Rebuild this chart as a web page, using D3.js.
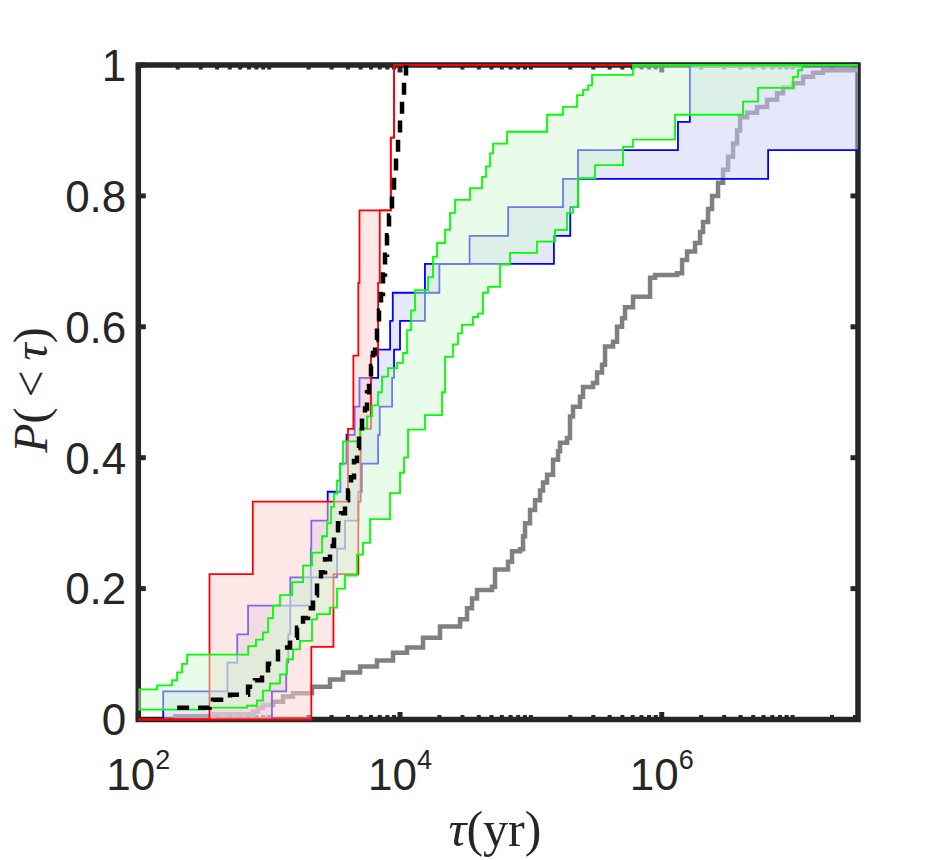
<!DOCTYPE html>
<html><head><meta charset="utf-8">
<script src="https://cdn.jsdelivr.net/npm/d3@7"></script>
<style>body{margin:0;background:#fff}</style>
</head><body><svg id="c" width="946" height="860"></svg>
<script>
// ---------- data (tau in yr, P = cumulative fraction) ----------
const xDomain = [1e2, 3.16e7];
const yDomain = [0, 1];
const xMajorTicks = [1e2, 1e4, 1e6];
const xMajorExp = ["2", "4", "6"];
const yTicks = [0, 0.2, 0.4, 0.6, 0.8, 1];
const yTickLabels = ["0", "0.2", "0.4", "0.6", "0.8", "1"];

const greyTau = [184, 372, 753, 821, 897, 1070, 1276, 1521, 2125, 2917, 3667, 4946, 6669, 8842, 11310, 14990, 20210, 28740, 32510, 35500, 38780, 50480, 53210, 66870, 71770, 82600, 87100, 90230, 98520, 107600, 117500, 123800, 132900, 147700, 161200, 167000, 188900, 199100, 209900, 237400, 250300, 298500, 320300, 349700, 368700, 424400, 455400, 497400, 524300, 603500, 814000, 888800, 1309000, 1430000, 1561000, 1797000, 1962000, 2068000, 2258000, 2423000, 2693000, 2942000, 3211000, 3507000, 3763000, 3967000, 4486000, 5350000, 6378000, 7606000, 8454000, 10080000, 12020000, 14330000, 17080000];
const greyP = [0.005, 0.008, 0.012, 0.018, 0.022, 0.027, 0.035, 0.04, 0.05, 0.061, 0.072, 0.081, 0.09, 0.102, 0.11, 0.125, 0.142, 0.153, 0.17, 0.185, 0.198, 0.203, 0.229, 0.241, 0.257, 0.26, 0.28, 0.30, 0.32, 0.335, 0.35, 0.362, 0.374, 0.397, 0.41, 0.423, 0.43, 0.463, 0.478, 0.493, 0.508, 0.514, 0.53, 0.542, 0.57, 0.577, 0.60, 0.613, 0.63, 0.646, 0.675, 0.679, 0.682, 0.702, 0.715, 0.728, 0.745, 0.76, 0.78, 0.80, 0.82, 0.84, 0.86, 0.88, 0.90, 0.92, 0.927, 0.936, 0.947, 0.957, 0.966, 0.972, 0.982, 0.988, 0.992];

const redUpperTau = [350, 750, 4000, 4400, 4800, 4900, 8500, 9000];
const redUpperP   = [0.222, 0.333, 0.444, 0.556, 0.667, 0.778, 0.889, 1.0];
const redLowerTau = [2100, 3100, 4800, 5000, 6000, 6800, 7000, 8500, 9000];
const redLowerP   = [0.111, 0.222, 0.333, 0.444, 0.556, 0.667, 0.778, 0.889, 1.0];

const blueUpperTau = [155, 480, 570, 690, 1450, 2080, 2100, 2800, 3500, 3900, 4500, 4900, 6800, 8400, 8800, 15500, 34000, 67000, 176000, 229000, 1330000, 1640000];
const blueUpperP   = [0.043, 0.087, 0.130, 0.174, 0.217, 0.261, 0.304, 0.348, 0.391, 0.435, 0.478, 0.522, 0.565, 0.609, 0.652, 0.696, 0.739, 0.783, 0.826, 0.870, 0.913, 1.0];
const blueLowerTau = [1050, 1350, 1400, 1450, 2100, 3300, 3800, 4800, 5100, 6800, 7000, 8700, 9000, 10000, 15500, 20000, 150000, 200000, 229000, 6500000];
const blueLowerP   = [0.043, 0.087, 0.130, 0.174, 0.217, 0.261, 0.304, 0.348, 0.391, 0.435, 0.478, 0.522, 0.565, 0.609, 0.652, 0.696, 0.739, 0.783, 0.826, 0.870];

const greenUpperStart = 0.046;
const greenUpperTau = [139, 181, 198, 216, 236, 690, 793, 897, 980, 1070, 1210, 1500, 1815, 2125, 2534, 2767, 2970, 3130, 3300, 3478, 3667, 4946, 5595, 6109, 6787, 7283, 8094, 9487, 10540, 11310, 12140, 13020, 16370, 17870, 19170, 22080, 24110, 26320, 34250, 42330, 45410, 48730, 51370, 65730, 132900, 176000, 225300, 250300, 273400, 293300, 603500];
const greenUpperP   = [0.052, 0.06, 0.072, 0.085, 0.099, 0.112, 0.122, 0.133, 0.155, 0.174, 0.19, 0.21, 0.235, 0.255, 0.28, 0.30, 0.325, 0.345, 0.365, 0.39, 0.425, 0.445, 0.463, 0.48, 0.50, 0.524, 0.537, 0.545, 0.56, 0.595, 0.625, 0.656, 0.676, 0.707, 0.728, 0.748, 0.774, 0.794, 0.812, 0.829, 0.845, 0.865, 0.88, 0.898, 0.924, 0.936, 0.954, 0.962, 0.969, 0.985, 1.0];
const greenLowerStart = 0.015;
const greenLowerTau = [323, 677, 807, 897, 1015, 1210, 1369, 1521, 1721, 2125, 2321, 2917, 3300, 3798, 4692, 5213, 5898, 8386, 10000, 10730, 11510, 15520, 20940, 22080, 25410, 27750, 29770, 36130, 39460, 43090, 47050, 58110, 69270, 111400, 152900, 188900, 209900, 229000, 309300, 506100, 603500, 1263000, 4182000, 5444000, 10080000, 11010000, 11810000];
const greenLowerP   = [0.018, 0.021, 0.029, 0.044, 0.055, 0.069, 0.092, 0.107, 0.12, 0.153, 0.161, 0.171, 0.20, 0.22, 0.252, 0.27, 0.306, 0.346, 0.377, 0.40, 0.443, 0.465, 0.50, 0.554, 0.573, 0.59, 0.603, 0.615, 0.62, 0.652, 0.661, 0.695, 0.713, 0.73, 0.748, 0.774, 0.783, 0.827, 0.847, 0.875, 0.886, 0.924, 0.944, 0.965, 0.982, 0.992, 1.0];

const medianTau = [198, 350, 372, 502, 690, 779, 882, 980, 1168, 1443, 1632, 1815, 1981, 2163, 2321, 2490, 2673, 2917, 3130, 3359, 3541, 3798, 4008, 4222, 4451, 4692, 4859, 5123, 5401, 5595, 5797, 6002, 6217, 6440, 6669, 6908, 7157, 7413, 7679, 7952, 8238, 8686, 9000, 9320, 9655, 10000, 10360, 10730, 11110];
const medianP   = [0.018, 0.022, 0.03, 0.038, 0.05, 0.06, 0.07, 0.085, 0.11, 0.125, 0.14, 0.155, 0.17, 0.19, 0.21, 0.225, 0.245, 0.265, 0.28, 0.30, 0.315, 0.335, 0.35, 0.37, 0.395, 0.415, 0.44, 0.46, 0.475, 0.50, 0.52, 0.54, 0.56, 0.58, 0.60, 0.625, 0.65, 0.68, 0.71, 0.74, 0.77, 0.80, 0.83, 0.86, 0.89, 0.92, 0.95, 0.98, 1.0];

// ---------- scales ----------
const L = 138.3, R = 858, T = 65, B = 719.5;
const x = d3.scaleLog().domain(xDomain).range([L, R]);
const y = d3.scaleLinear().domain(yDomain).range([B, T]);
const svg = d3.select("#c");
svg.append("rect").attr("width", 946).attr("height", 860).attr("fill", "#fff");

const AX = "#262626";
svg.append("rect").attr("x", L).attr("y", T).attr("width", R - L).attr("height", B - T)
  .attr("fill", "none").attr("stroke", AX).attr("stroke-width", 5.5);

// ticks
const tk = svg.append("g").attr("stroke", AX);
const majLen = 7.5, minLen = 4.5;
xMajorTicks.forEach(v => {
  const px = x(v);
  tk.append("line").attr("x1", px).attr("x2", px).attr("y1", B).attr("y2", B - majLen).attr("stroke-width", 5);
  tk.append("line").attr("x1", px).attr("x2", px).attr("y1", T).attr("y2", T + majLen).attr("stroke-width", 5);
});
x.ticks().filter(v => !xMajorTicks.some(m => Math.abs(m - v) / v < 1e-6)).forEach(v => {
  const px = x(v);
  if (px < L + 2 || px > R - 2) return;
  tk.append("line").attr("x1", px).attr("x2", px).attr("y1", B).attr("y2", B - minLen).attr("stroke-width", 4);
  tk.append("line").attr("x1", px).attr("x2", px).attr("y1", T).attr("y2", T + minLen).attr("stroke-width", 4);
});
yTicks.forEach(v => {
  const py = y(v);
  tk.append("line").attr("x1", L).attr("x2", L + majLen).attr("y1", py).attr("y2", py).attr("stroke-width", 5);
  tk.append("line").attr("x1", R).attr("x2", R - majLen).attr("y1", py).attr("y2", py).attr("stroke-width", 5);
});

// tick labels
const lab = svg.append("g").attr("fill", AX).attr("font-family", "'Liberation Sans', Arial, Helvetica, sans-serif");
yTicks.forEach((v, i) => {
  lab.append("text").attr("x", L - 12).attr("y", y(v)).attr("dy", "0.36em")
    .attr("text-anchor", "end").attr("font-size", 44).text(yTickLabels[i]);
});
xMajorTicks.forEach((v, i) => {
  const t = lab.append("text").attr("x", x(v)).attr("y", 790).attr("text-anchor", "middle").attr("font-size", 44);
  t.append("tspan").text("10");
  t.append("tspan").attr("font-size", 27).attr("dy", -21).text(xMajorExp[i]);
});

// axis titles
const serif = "'Liberation Serif', 'Times New Roman', serif";
const xt = svg.append("text").attr("x", 495).attr("y", 846).attr("text-anchor", "middle")
  .attr("font-family", serif).attr("font-size", 50).attr("fill", AX);
xt.append("tspan").attr("font-style", "italic").text("τ");
xt.append("tspan").text("(yr)");
const yt = svg.append("text").attr("transform", "translate(47,390) rotate(-90)").attr("text-anchor", "middle")
  .attr("font-family", serif).attr("font-size", 48).attr("fill", AX);
yt.append("tspan").attr("font-style", "italic").text("P");
yt.append("tspan").text("(");
yt.append("tspan").attr("dx", 10).text("<");
yt.append("tspan").attr("dx", 10).attr("font-style", "italic").text("τ");
yt.append("tspan").text(")");

// ---------- staircase helpers ----------
function stair(taus, ps, start, extend, lead) {
  const pts = [];
  let prev = start;
  if (start != null && lead) pts.push([xDomain[0], start]);
  taus.forEach((t, i) => {
    if (prev != null) pts.push([t, prev]);
    pts.push([t, ps[i]]);
    prev = ps[i];
  });
  if (extend) pts.push([xDomain[1], prev]);
  return pts;
}
const line = d3.line().x(d => x(d[0])).y(d => y(d[1]));
function band(up, lo, lineUp, lineLo, fill, stroke) {
  const poly = up.concat(lo.slice().reverse());
  svg.append("path").attr("d", line(poly) + "Z").attr("fill", fill).attr("fill-opacity", 0.5).attr("stroke", "none");
  [lineUp, lineLo].forEach(p => svg.append("path").attr("d", line(p)).attr("fill", "none")
    .attr("stroke", stroke).attr("stroke-width", 1.8));
}

// grey reference CDF
svg.append("path").attr("d", line(stair(greyTau, greyP, null, true, false)))
  .attr("fill", "none").attr("stroke", "#808080").attr("stroke-width", 4.5);

band(stair(blueUpperTau, blueUpperP, 0, true, true), stair(blueLowerTau, blueLowerP, 0, true, true),
     stair(blueUpperTau, blueUpperP, 0, true, false), stair(blueLowerTau, blueLowerP, 0, true, false), "#d0d0f8", "#0000ff");
band(stair(redUpperTau, redUpperP, 0, true, true), stair(redLowerTau, redLowerP, 0, true, true),
     stair(redUpperTau, redUpperP, 0, true, true), stair(redLowerTau, redLowerP, 0, true, true), "#fbd0d0", "#ff0000");
band(stair(greenUpperTau, greenUpperP, greenUpperStart, true, true), stair(greenLowerTau, greenLowerP, greenLowerStart, true, true),
     stair(greenUpperTau, greenUpperP, greenUpperStart, true, true), stair(greenLowerTau, greenLowerP, greenLowerStart, true, true), "#d4fad4", "#00ff00");

// median dashed
svg.append("path").attr("d", line(stair(medianTau, medianP, null, false, false)))
  .attr("fill", "none").attr("stroke", "#000").attr("stroke-width", 4.5).attr("stroke-dasharray", "12,9");
</script></body></html>
